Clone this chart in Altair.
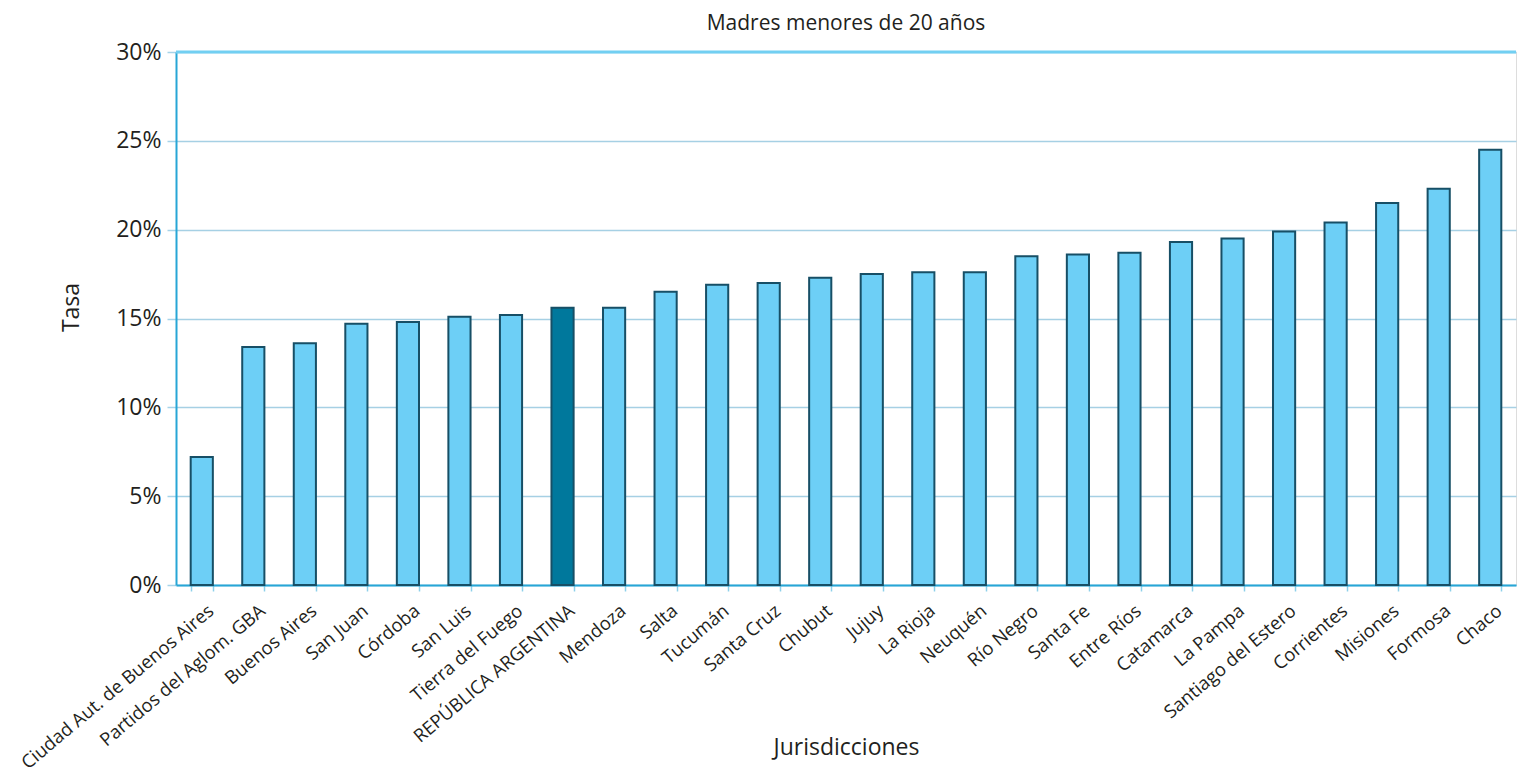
import altair as alt
import pandas as pd

categorias = [
    "Ciudad Aut. de Buenos Aires", "Partidos del Aglom. GBA", "Buenos Aires", "San Juan",
    "Córdoba", "San Luis", "Tierra del Fuego", "REPÚBLICA ARGENTINA", "Mendoza", "Salta",
    "Tucumán", "Santa Cruz", "Chubut", "Jujuy", "La Rioja", "Neuquén", "Río Negro",
    "Santa Fe", "Entre Ríos", "Catamarca", "La Pampa", "Santiago del Estero", "Corrientes",
    "Misiones", "Formosa", "Chaco",
]
valores = [
    7.2, 13.4, 13.6, 14.7, 14.8, 15.1, 15.2, 15.6, 15.6, 16.5,
    16.9, 17.0, 17.3, 17.5, 17.6, 17.6, 18.5, 18.6, 18.7, 19.3,
    19.5, 19.9, 20.4, 21.5, 22.3, 24.5,
]
destacado = "REPÚBLICA ARGENTINA"
ticks_y = [0, 0.05, 0.10, 0.15, 0.20, 0.25, 0.30]

df = pd.DataFrame({
    "Jurisdicción": categorias,
    "Tasa": [v / 100 for v in valores],
    "tipo": ["pais" if c == destacado else "prov" for c in categorias],
})

FONT = "Open Sans"
TXT = "#231f20"

bars = alt.Chart(df).mark_bar(stroke="#174f66", strokeWidth=2).encode(
    x=alt.X(
        "Jurisdicción:N",
        sort=categorias,
        scale=alt.Scale(paddingInner=0.57, paddingOuter=0.285),
        axis=alt.Axis(
            title="Jurisdicciones",
            labelAngle=-40,
            labelLimit=0,
            tickBand="extent",
            tickSize=6,
            tickColor="#8fd0ea",
            tickWidth=1.5,
            domainColor="#27a6d6",
            domainWidth=2,
            labelFontSize=18.5,
            labelFont=FONT,
            labelColor=TXT,
            labelPadding=10,
            labelOffset=3,
            titleFontSize=23,
            titleFont=FONT,
            titleFontWeight="normal",
            titleColor=TXT,
            titleY=169,
            titleBaseline="alphabetic",
            grid=False,
        ),
    ),
    y=alt.Y(
        "Tasa:Q",
        scale=alt.Scale(domain=[0, 0.3]),
        axis=alt.Axis(
            title="Tasa",
            values=ticks_y,
            format=".0%",
            tickSize=9,
            tickColor="#a6d3e8",
            tickWidth=1.5,
            domainColor="#27a6d6",
            domainWidth=2,
            gridColor="#a6d0e4",
            gridWidth=1.5,
            labelFontSize=23,
            labelFont=FONT,
            labelColor=TXT,
            labelPadding=6,
            titleFontSize=23,
            titleFont=FONT,
            titleFontWeight="normal",
            titleColor=TXT,
            titleX=-98,
            titleY=255,
            titleBaseline="alphabetic",
            titleAlign="center",
        ),
    ),
    color=alt.Color(
        "tipo:N",
        scale=alt.Scale(domain=["prov", "pais"], range=["#6dcff6", "#00789c"]),
        legend=None,
    ),
)

top_line = alt.Chart(pd.DataFrame({"Tasa": [0.3]})).mark_rule(
    color="#72cff2", strokeWidth=3
).encode(y="Tasa:Q")

chart = alt.layer(bars, top_line).properties(
    width=1340,
    height=533,
    title=alt.TitleParams(
        "Madres menores de 20 años",
        fontSize=21,
        font=FONT,
        fontWeight="normal",
        color=TXT,
        anchor="middle",
        offset=7,
    ),
    autosize=alt.AutoSizeParams(type="none"),
    padding={"left": 176, "top": 52, "right": 1, "bottom": 189},
).configure_view(
    fill="#e0f2fc", stroke=None
).configure(background="white")

chart.save("out.html", embed_options={"renderer": "svg", "actions": False})
